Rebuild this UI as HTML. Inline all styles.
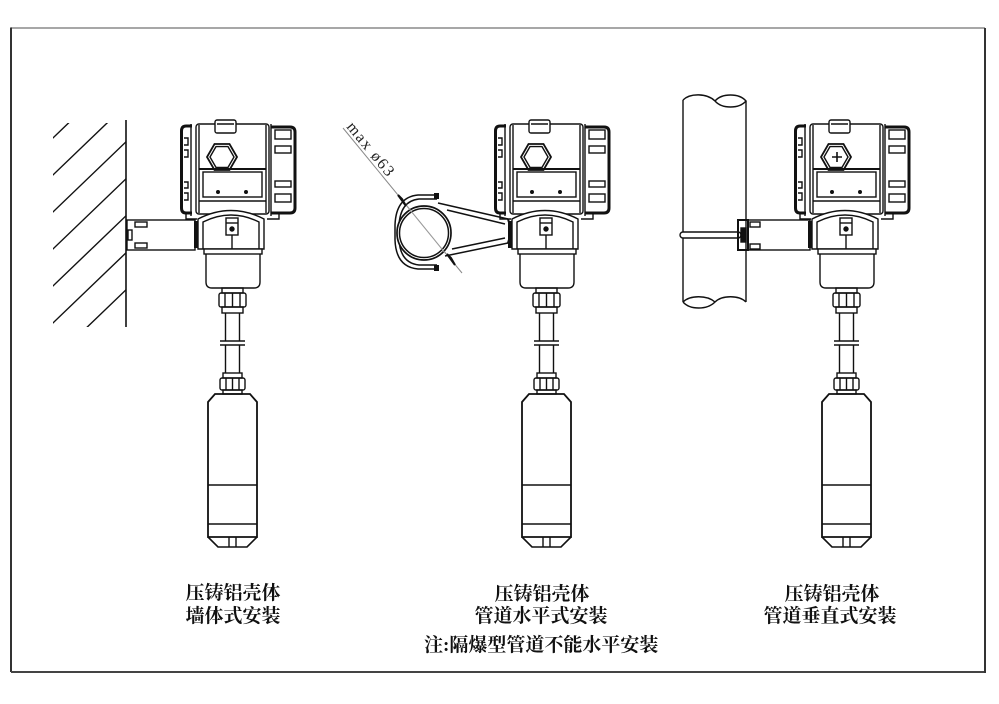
<!DOCTYPE html>
<html><head><meta charset="utf-8"><style>
html,body{margin:0;padding:0;background:#fff;}
svg{display:block;}
.t{font-family:"Liberation Serif","Noto Serif CJK SC",serif;font-size:19px;font-weight:bold;fill:#111;}
</style></head><body>
<svg width="999" height="704" viewBox="0 0 999 704" xmlns="http://www.w3.org/2000/svg">
<defs>
<clipPath id="wc"><rect x="53" y="123" width="73" height="204"/></clipPath>
<g id="dev" fill="none" stroke="#111" stroke-width="1.4">
  <!-- left fin block -->
  <line x1="191" y1="124" x2="191" y2="216"/>
  <path d="M192,126 H186 Q181.5,126 181.5,131 V208 Q181.5,213 186,213 H192" stroke-width="3"/>
  <path d="M184,138 h4 v7 h-4 M184,150 h4 v7 h-4 M184,182 h4 v6 h-4 M184,193 h4 v7 h-4"/>
  <!-- main housing -->
  <rect x="196" y="124" width="73" height="90" rx="3" fill="#fff"/>
  <line x1="199" y1="125" x2="199" y2="213"/>
  <line x1="266" y1="125" x2="266" y2="213"/>
  <!-- tab -->
  <rect x="215" y="120" width="21" height="13" rx="2" fill="#fff"/>
  <line x1="217" y1="124" x2="234" y2="124"/>
  <!-- hex -->
  <polygon points="237,157 229.5,144 214.5,144 207,157 214.5,170 229.5,170" stroke-width="1.8"/>
  <polygon points="234,157 228,146.6 216,146.6 210,157 216,167.4 228,167.4"/>
  <!-- window -->
  <line x1="199" y1="169" x2="266" y2="169" stroke-width="2"/>
  <rect x="203" y="172" width="59" height="25"/>
  <line x1="199" y1="201" x2="266" y2="201" stroke-width="1.6"/>
  <circle cx="218" cy="192" r="1.3" fill="#111"/>
  <circle cx="246" cy="192" r="1.3" fill="#111"/>
  <!-- right cap -->
  <line x1="271" y1="124" x2="271" y2="216"/>
  <path d="M271,127 H290 Q295,127 295,132 V208 Q295,213 290,213 H271" stroke-width="3"/>
  <rect x="275" y="130" width="16" height="9"/>
  <rect x="275" y="146" width="16" height="7"/>
  <rect x="275" y="181" width="16" height="6"/>
  <rect x="275" y="194" width="16" height="8"/>
  <!-- feet -->
  <path d="M186,213 V219 H197"/>
  <path d="M279,213 V219 H267"/>
  <!-- neck -->
  <path d="M198,249 V219 Q231,202 264,219 V249 Z" fill="#fff"/>
  <path d="M203,249 V222 Q231,208 259,222 V249"/>
  <rect x="226" y="218" width="12" height="17" fill="#fff"/>
  <line x1="226" y1="223" x2="238" y2="223"/>
  <circle cx="232" cy="229" r="2" fill="#111"/>
  <line x1="232" y1="235" x2="232" y2="249"/>
  <rect x="194" y="221" width="4" height="27" fill="#111" stroke="none"/>
  <!-- lower cylinder -->
  <rect x="204" y="249" width="58" height="5" fill="#fff"/>
  <path d="M206,254 V282 Q206,288 212,288 H254 Q260,288 260,282 V254"/>
  <!-- upper gland -->
  <rect x="222" y="288" width="21" height="5"/>
  <rect x="219" y="293" width="27" height="14" rx="2"/>
  <path d="M225,293 V307 M232.5,293 V307 M240,293 V307"/>
  <rect x="222" y="307" width="21" height="6"/>
  <!-- tube -->
  <path d="M225.5,313 V373 M239.5,313 V373"/>
  <rect x="221" y="341" width="23" height="4" fill="#fff" stroke="none"/>
  <path d="M220,341 H245 M220,345 H245"/>
  <!-- lower gland -->
  <rect x="223" y="373" width="19" height="5"/>
  <rect x="220" y="378" width="25" height="12" rx="2"/>
  <path d="M226,378 V390 M232.5,378 V390 M239,378 V390"/>
  <rect x="223" y="390" width="19" height="4"/>
  <!-- probe -->
  <path d="M215,394 H250 L257,402 V537 H208 V402 Z" stroke-width="1.8"/>
  <line x1="208" y1="485" x2="257" y2="485"/>
  <line x1="208" y1="524" x2="257" y2="524"/>
  <path d="M208,537 L218,547 H247 L257,537" stroke-width="1.6"/>
  <path d="M229,537 V547 M236,537 V547"/>
</g>
</defs>

<!-- frame -->
<line x1="11" y1="28" x2="985" y2="28" stroke="#8a8a8a" stroke-width="1.5"/>
<line x1="11" y1="27.5" x2="11" y2="672" stroke="#333" stroke-width="2"/>
<line x1="11" y1="672" x2="985" y2="672" stroke="#444" stroke-width="2"/>
<line x1="985" y1="28" x2="985" y2="673" stroke="#333" stroke-width="2"/>

<!-- wall -->
<line x1="126" y1="120" x2="126" y2="327" stroke="#111" stroke-width="1.6"/>
<g clip-path="url(#wc)" stroke="#111" stroke-width="1.4">
  <line x1="40" y1="150.4" x2="130" y2="64"/>
  <line x1="40" y1="187.4" x2="130" y2="101"/>
  <line x1="40" y1="224.4" x2="130" y2="138"/>
  <line x1="40" y1="261.4" x2="130" y2="175"/>
  <line x1="40" y1="298.4" x2="130" y2="212"/>
  <line x1="40" y1="335.4" x2="130" y2="249"/>
  <line x1="40" y1="372.4" x2="130" y2="286"/>
</g>
<!-- wall bracket -->
<g fill="none" stroke="#111" stroke-width="1.4">
  <rect x="127" y="220" width="68" height="30"/>
  <rect x="135" y="222" width="12" height="5"/>
  <rect x="135" y="243" width="12" height="5"/>
  <rect x="128" y="230" width="4" height="10"/>
</g>

<!-- middle clamp -->
<line x1="343" y1="128" x2="462" y2="273" stroke="#888" stroke-width="1"/>
<g fill="none" stroke="#111" stroke-width="1.5">
  <path d="M438,203 L508,219 M447,210 L505,224"/>
  <path d="M445,256 L508,243 M452,249 L505,238"/>
  <path d="M508,219 Q512,231 508,243" stroke-width="2"/>
  <path d="M437,195 H418 Q396,197 395,225 V240 Q396,267 418,269 H437"/>
  <path d="M437,199 H419 Q400,201 399,226 V239 Q400,263 419,265 H437"/>
  <circle cx="424" cy="233" r="27" fill="#fff" stroke-width="1.7"/>
  <circle cx="424" cy="233" r="24.5"/>
</g>
<line x1="402" y1="200" x2="446" y2="254" stroke="#999" stroke-width="1"/>
<path d="M398,195 L406,206 L402,199 Z" fill="#111" stroke="#111" stroke-width="2"/>
<path d="M447,254 L455,265 L451,258 Z" fill="#111" stroke="#111" stroke-width="2"/>
<rect x="434" y="193" width="5" height="6" fill="#111"/>
<rect x="434" y="265" width="5" height="6" fill="#111"/>
<text x="346" y="127" transform="rotate(50.6 346 127)" font-family="Liberation Serif, serif" font-size="16" letter-spacing="1.6" fill="#222">max ø63</text>

<!-- right pipe -->
<g fill="none" stroke="#111" stroke-width="1.4">
  <line x1="683" y1="100" x2="683" y2="302"/>
  <line x1="746" y1="101" x2="746" y2="302"/>
  <path d="M683,100 C690,93 707,93 715,101 C722,93 739,93 746,101 C739,109 722,109 715,101"/>
  <path d="M683,302 C690,295 707,295 715,302 C722,295 739,295 746,302 M683,302 C690,310 707,310 715,302"/>
  <rect x="680" y="232" width="61" height="6" rx="3" fill="#fff"/>
  <rect x="738" y="220" width="10" height="30" stroke-width="2"/>
  <rect x="741" y="228" width="5" height="14" fill="#111"/>
  <rect x="748" y="220" width="62" height="30"/>
  <rect x="750" y="222" width="10" height="5"/>
  <rect x="750" y="244" width="10" height="5"/>
</g>

<!-- devices -->
<use href="#dev"/>
<use href="#dev" transform="translate(314,0)"/>
<use href="#dev" transform="translate(614,0)"/>
<path d="M837,152 V162 M832,157 H842" stroke="#111" stroke-width="1.6"/>

<!-- labels -->
<text class="t" x="233" y="599" text-anchor="middle">压铸铝壳体</text>
<text class="t" x="233" y="622" text-anchor="middle">墙体式安装</text>
<text class="t" x="542" y="600" text-anchor="middle">压铸铝壳体</text>
<text class="t" x="541" y="622" text-anchor="middle">管道水平式安装</text>
<text class="t" x="832" y="600" text-anchor="middle">压铸铝壳体</text>
<text class="t" x="830" y="622" text-anchor="middle">管道垂直式安装</text>
<text class="t" x="424" y="651">注:隔爆型管道不能水平安装</text>
</svg>
</body></html>
